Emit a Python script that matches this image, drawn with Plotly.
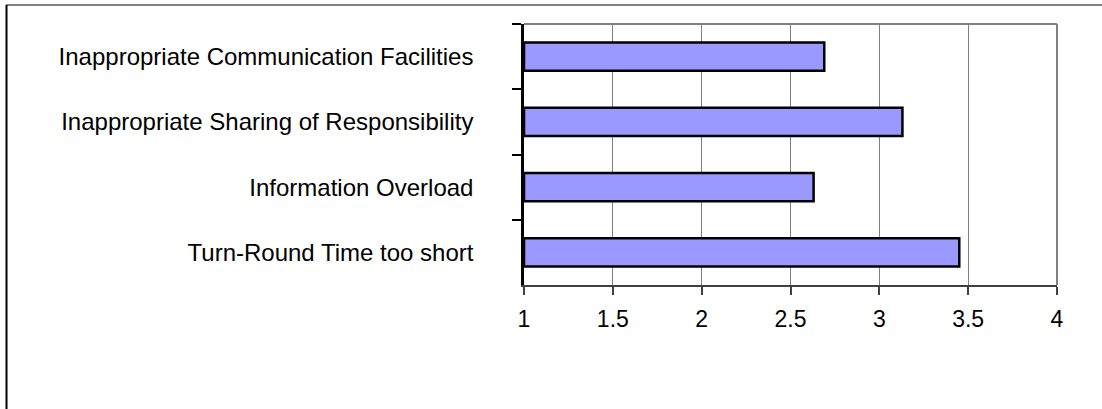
import plotly.graph_objects as go

categories = [
    "Inappropriate Communication Facilities",
    "Inappropriate Sharing of Responsibility",
    "Information Overload",
    "Turn-Round Time too short",
]
values = [2.69, 3.13, 2.63, 3.45]
x_ticks = [1, 1.5, 2, 2.5, 3, 3.5, 4]
x_tick_labels = ["1", "1.5", "2", "2.5", "3", "3.5", "4"]

W, H = 1102, 409
L, R, T, B = 524, 45, 24, 124
pw, ph = W - L - R, H - T - B

def px(x):
    return (x - L) / pw

def py(y):
    return 1 - (y - T) / ph

fig = go.Figure(
    go.Bar(
        x=[v - 1 for v in values],
        y=categories,
        orientation="h",
        base=1,
        marker=dict(color="#9999FF", line=dict(color="#000000", width=2.5)),
        hoverinfo="skip",
    )
)

font = "Liberation Sans, Arial, sans-serif"
fig.update_layout(
    width=W,
    height=H,
    margin=dict(l=L, r=R, t=T, b=B, pad=0),
    paper_bgcolor="white",
    plot_bgcolor="white",
    bargap=0.57,
    showlegend=False,
    font=dict(family=font, size=24, color="#000000"),
    xaxis=dict(
        range=[1, 4],
        tickvals=x_ticks,
        ticktext=x_tick_labels,
        showgrid=True,
        gridcolor="#808080",
        gridwidth=1,
        zeroline=False,
        showline=True,
        linecolor="#404040",
        linewidth=2,
        ticks="outside",
        ticklen=8,
        tickcolor="#404040",
        tickwidth=1.5,
        ticklabelstandoff=4,
        tickfont=dict(size=23),
    ),
    yaxis=dict(
        autorange="reversed",
        showgrid=False,
        zeroline=False,
        showline=True,
        linecolor="#000000",
        linewidth=2.5,
        ticks="outside",
        tickson="boundaries",
        ticklen=9,
        tickcolor="#000000",
        tickwidth=1.5,
        ticklabelstandoff=43,
        tickfont=dict(size=24),
    ),
    shapes=[
        dict(type="line", xref="paper", yref="paper", x0=0, x1=1, y0=1, y1=1,
             line=dict(color="#808080", width=2)),
        dict(type="line", xref="paper", yref="paper", x0=1, x1=1, y0=0, y1=1,
             line=dict(color="#808080", width=2)),
        dict(type="line", xref="paper", yref="paper", x0=px(6), x1=px(W + 5), y0=py(5), y1=py(5),
             line=dict(color="#808080", width=2)),
        dict(type="line", xref="paper", yref="paper", x0=px(6.5), x1=px(6.5), y0=py(5), y1=py(H + 5),
             line=dict(color="#000000", width=2)),
    ],
)

fig.write_html("out.html")
